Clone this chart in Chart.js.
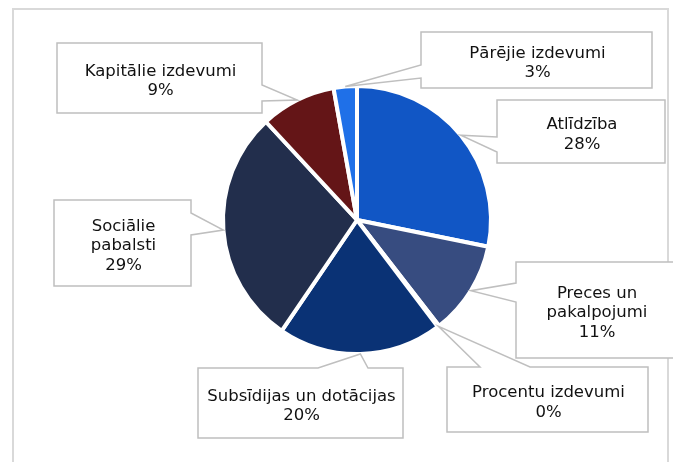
<!DOCTYPE html>
<html>
<head>
<meta charset="utf-8">
<script src="https://cdn.jsdelivr.net/npm/chart.js@4/dist/chart.umd.min.js"></script>
<style>
  html, body { margin: 0; padding: 0; background: #ffffff; }
  #wrap { position: relative; width: 673px; height: 462px; }
</style>
</head>
<body>
<div id="wrap"><canvas id="c"></canvas></div>
<script>
// ---- Data ----
const categories = [
  'Atlīdzība',
  'Preces un pakalpojumi',
  'Procentu izdevumi',
  'Subsīdijas un dotācijas',
  'Sociālie pabalsti',
  'Kapitālie izdevumi',
  'Pārējie izdevumi'
];
const shares = [28.2, 11.3, 0.2, 19.8, 28.6, 9.1, 2.8];
const sliceColors = ['#1156C5', '#374C80', '#0E2A60', '#0A3275', '#222E4C', '#641517', '#1F70E8'];

// ---- Callout layout (box position, side of pointer, pointer base, wrap width) ----
const callouts = [
  { box: [497, 100, 168, 63], side: 'left',  base: [137, 152], wrap: 150 },
  { box: [516, 262, 160, 96], side: 'left',  base: [283, 302], wrap: 125 },
  { box: [447, 367, 201, 65], side: 'top',   base: [480, 530], wrap: 190 },
  { box: [198, 368, 205, 70], side: 'top',   base: [318, 368], wrap: 200 },
  { box: [54, 200, 137, 86],  side: 'right', base: [213, 235], wrap: 100 },
  { box: [57, 43, 205, 70],   side: 'right', base: [85, 101],  wrap: 200 },
  { box: [421, 32, 231, 56],  side: 'left',  base: [65, 78],   wrap: 220 }
];

const FONT = '16.5px "DejaVu Sans", Verdana, sans-serif';

function wrapText(ctx, text, maxW) {
  const words = text.split(' ');
  const lines = [];
  let cur = '';
  for (const w of words) {
    const t = cur ? cur + ' ' + w : w;
    if (cur && ctx.measureText(t).width > maxW) { lines.push(cur); cur = w; }
    else cur = t;
  }
  if (cur) lines.push(cur);
  return lines;
}

const framePlugin = {
  id: 'frame',
  beforeDraw(chart) {
    const ctx = chart.ctx;
    ctx.save();
    ctx.strokeStyle = '#d9d9d9';
    ctx.lineWidth = 2;
    ctx.strokeRect(13, 9, 655, 470);
    ctx.restore();
  }
};

const calloutPlugin = {
  id: 'callouts',
  afterDatasetsDraw(chart) {
    const ctx = chart.ctx;
    const meta = chart.getDatasetMeta(0);
    const total = shares.reduce((a, b) => a + b, 0);
    ctx.save();
    ctx.font = FONT;
    meta.data.forEach((arc, i) => {
      const c = callouts[i];
      const p = arc.getProps(['x', 'y', 'startAngle', 'endAngle', 'outerRadius'], true);
      const mid = (p.startAngle + p.endAngle) / 2;
      const tx = p.x + Math.cos(mid) * p.outerRadius;
      const ty = p.y + Math.sin(mid) * p.outerRadius;
      const [x, y, w, h] = c.box;
      const [b1, b2] = c.base;
      ctx.beginPath();
      if (c.side === 'left') {
        ctx.moveTo(x, y); ctx.lineTo(x + w, y); ctx.lineTo(x + w, y + h); ctx.lineTo(x, y + h);
        ctx.lineTo(x, b2); ctx.lineTo(tx, ty); ctx.lineTo(x, b1);
      } else if (c.side === 'right') {
        ctx.moveTo(x, y); ctx.lineTo(x + w, y); ctx.lineTo(x + w, b1); ctx.lineTo(tx, ty);
        ctx.lineTo(x + w, b2); ctx.lineTo(x + w, y + h); ctx.lineTo(x, y + h);
      } else {
        ctx.moveTo(x, y); ctx.lineTo(b1, y); ctx.lineTo(tx, ty); ctx.lineTo(b2, y);
        ctx.lineTo(x + w, y); ctx.lineTo(x + w, y + h); ctx.lineTo(x, y + h);
      }
      ctx.closePath();
      ctx.fillStyle = '#ffffff';
      ctx.fill();
      ctx.strokeStyle = '#bfbfbf';
      ctx.lineWidth = 1.5;
      ctx.stroke();

      const pct = Math.round(shares[i] / total * 100) + '%';
      const lines = wrapText(ctx, categories[i], c.wrap).concat([pct]);
      const lh = 19.5;
      const cx = x + w / 2 + 1;
      const cy = y + h / 2 + 3;
      ctx.fillStyle = '#111111';
      ctx.textAlign = 'center';
      ctx.textBaseline = 'middle';
      lines.forEach((ln, k) => {
        ctx.fillText(ln, cx, cy + (k - (lines.length - 1) / 2) * lh);
      });
    });
    ctx.restore();
  }
};

new Chart(document.getElementById('c'), {
  type: 'pie',
  data: {
    labels: categories,
    datasets: [{
      data: shares,
      backgroundColor: sliceColors,
      borderColor: '#ffffff',
      borderWidth: 4
    }]
  },
  options: {
    responsive: true,
    maintainAspectRatio: false,
    animation: false,
    layout: { padding: { left: 221, right: 180, top: 84, bottom: 106 } },
    plugins: {
      legend: { display: false },
      tooltip: { enabled: false }
    }
  },
  plugins: [framePlugin, calloutPlugin]
});
</script>
</body>
</html>
